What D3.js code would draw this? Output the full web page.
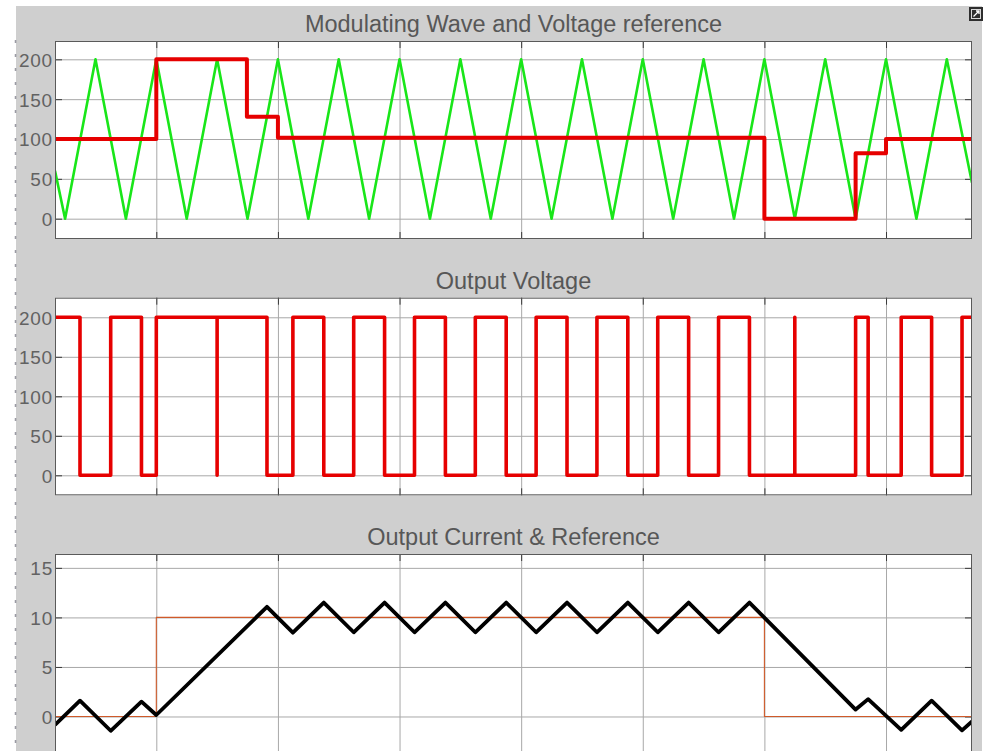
<!DOCTYPE html>
<html>
<head>
<meta charset="utf-8">
<script src="https://cdn.jsdelivr.net/npm/d3@7"></script>
<style>
  body { margin: 0; background: #ffffff; }
  svg { display: block; }
  text { font-family: "Liberation Sans", Arial, sans-serif; }
</style>
</head>
<body>
<svg id="chart" width="988" height="751"></svg>
<script>
// ---- time axis (ms) ----
const timeDomain = [0.167, 7.707];
const timeTicks = [1, 2, 3, 4, 5, 6, 7];

// ---- panel titles and y ticks ----
const titles = ["Modulating Wave and Voltage reference", "Output Voltage", "Output Current & Reference"];
const voltageTicks = [0, 50, 100, 150, 200];
const currentTicks = [0, 5, 10, 15];

// ---- triangular carrier (vertices) ----
const carrierTime = [0.167, 0.25, 0.5, 0.75, 1, 1.25, 1.5, 1.75, 2, 2.25, 2.5, 2.75, 3, 3.25, 3.5, 3.75,
                     4, 4.25, 4.5, 4.75, 5, 5.25, 5.5, 5.75, 6, 6.25, 6.5, 6.75, 7, 7.25, 7.5, 7.707];
const carrierValue = [60, 0, 200, 0, 200, 0, 200, 0, 200, 0, 200, 0, 200, 0, 200, 0,
                      200, 0, 200, 0, 200, 0, 200, 0, 200, 0, 200, 0, 200, 0, 200, 45];

// ---- voltage reference (steps) ----
const refTime = [0.167, 1.0, 1.745, 2.0, 6.0, 6.75, 7.0, 7.707];
const refValue = [100, 200, 128, 101.5, 0, 82, 100, 100];

// ---- PWM output voltage (steps) ----
const voltTime = [0.167, 0.3725, 0.625, 0.878, 1.0, 1.5, 1.5, 1.91, 2.123, 2.377, 2.623, 2.877,
                  3.123, 3.377, 3.623, 3.877, 4.123, 4.377, 4.623, 4.877, 5.123, 5.377, 5.623, 5.877,
                  6.25, 6.25, 6.75, 6.853, 7.125, 7.375, 7.625, 7.707];
const voltValue = [200, 0, 200, 0, 200, 0, 200, 0, 200, 0, 200, 0,
                   200, 0, 200, 0, 200, 0, 200, 0, 200, 0, 200, 0,
                   200, 0, 200, 0, 200, 0, 200, 200];

// ---- output current (vertices) ----
const currentTime = [0.167, 0.3725, 0.625, 0.878, 1.0, 1.91,
                     2.123, 2.377, 2.623, 2.877, 3.123, 3.377, 3.623, 3.877,
                     4.123, 4.377, 4.623, 4.877, 5.123, 5.377, 5.623, 5.877,
                     6.75, 6.853, 7.125, 7.375, 7.625, 7.707];
const currentValue = [-0.85, 1.6, -1.44, 1.5, 0.15, 11.07,
                      8.46, 11.5, 8.5, 11.5, 8.5, 11.5, 8.5, 11.5,
                      8.5, 11.5, 8.5, 11.5, 8.5, 11.5, 8.5, 11.5,
                      0.7, 1.75, -1.35, 1.6, -1.4, -0.5];

// ---- current reference (steps) ----
const irefTime = [0.167, 1.0, 6.0, 7.707];
const irefValue = [0, 10, 0, 0];

const zip = (ts, vs) => ts.map((t, i) => ({ t, v: vs[i] }));

const W = 988, H = 751;
const left = 55, right = 972;
const svg = d3.select("#chart");

// window background
svg.append("rect").attr("x", 16).attr("y", 6).attr("width", 966).attr("height", H - 6).attr("fill", "#cfcfcf");
svg.append("line").attr("x1", 15.5).attr("x2", 15.5).attr("y1", 40).attr("y2", H)
  .attr("stroke", "#4a4a5a").attr("stroke-width", 1.5).attr("stroke-dasharray", "3,11").attr("opacity", 0.55);

// undock icon in the corner
svg.append("rect").attr("x", 969).attr("y", 7).attr("width", 14).attr("height", 14).attr("fill", "#2e2e2e");
svg.append("rect").attr("x", 971.5).attr("y", 9.5).attr("width", 9).attr("height", 9)
  .attr("fill", "none").attr("stroke", "#d8d8d8").attr("stroke-width", 1);
svg.append("path").attr("d", "M973.5,16.5 L979,11 M976,11 L979,11 L979,14")
  .attr("stroke", "#ffffff").attr("stroke-width", 1.3).attr("fill", "none");

const x = d3.scaleLinear().domain(timeDomain).range([left, right]);

const panels = [
  { title: titles[0], titleY: 31.5, top: 41, bottom: 239, domain: [-25.5, 223], ticks: voltageTicks,
    series: [
      { data: zip(carrierTime, carrierValue), color: "#19e619", width: 2.6, curve: d3.curveLinear },
      { data: zip(refTime, refValue), color: "#e60000", width: 4, curve: d3.curveStepAfter }
    ] },
  { title: titles[1], titleY: 288.5, top: 297.7, bottom: 495.3, domain: [-25.3, 224.8], ticks: voltageTicks,
    series: [
      { data: zip(voltTime, voltValue), color: "#e60000", width: 3.6, curve: d3.curveStepAfter }
    ] },
  { title: titles[2], titleY: 545, top: 554, bottom: 770, domain: [-5.4, 16.4], ticks: currentTicks,
    series: [
      { data: zip(irefTime, irefValue), color: "#cf5a2a", width: 1.1, curve: d3.curveStepAfter },
      { data: zip(currentTime, currentValue), color: "#000000", width: 3.8, curve: d3.curveLinear }
    ] }
];

panels.forEach((p, idx) => {
  const y = d3.scaleLinear().domain(p.domain).range([p.bottom, p.top]);
  const plotW = right - left, plotH = p.bottom - p.top;
  const g = svg.append("g");

  g.append("text").attr("x", (left + right) / 2).attr("y", p.titleY)
    .attr("text-anchor", "middle").attr("font-size", 23.5).attr("fill", "#575757").text(p.title);

  g.append("rect").attr("x", left).attr("y", p.top).attr("width", plotW).attr("height", plotH).attr("fill", "#ffffff");

  // grid
  const gy = g.append("g").attr("transform", `translate(${left},0)`)
    .call(d3.axisLeft(y).tickValues(p.ticks).tickSize(-plotW).tickFormat(""));
  const gx = g.append("g").attr("transform", `translate(0,${p.bottom})`)
    .call(d3.axisBottom(x).tickValues(timeTicks).tickSize(-plotH).tickFormat(""));
  [gy, gx].forEach(a => {
    a.select(".domain").remove();
    a.selectAll("line").attr("stroke", "#a8a8a8").attr("stroke-width", 1);
  });

  // inward tick marks
  const tickSets = [
    [d3.axisLeft(y).tickValues(p.ticks), `translate(${left},0)`],
    [d3.axisRight(y).tickValues(p.ticks), `translate(${right},0)`],
    [d3.axisTop(x).tickValues(timeTicks), `translate(0,${p.top})`],
    [d3.axisBottom(x).tickValues(timeTicks), `translate(0,${p.bottom})`]
  ];
  tickSets.forEach(([ax, tr]) => {
    const a = g.append("g").attr("transform", tr).call(ax.tickSize(-7).tickFormat(""));
    a.select(".domain").remove();
    a.selectAll("line").attr("stroke", "#3a3a3a").attr("stroke-width", 1);
  });

  // data lines
  const clipId = "clip" + idx;
  svg.append("clipPath").attr("id", clipId).append("rect")
    .attr("x", left).attr("y", p.top).attr("width", plotW).attr("height", plotH);
  const lines = g.append("g").attr("clip-path", `url(#${clipId})`);
  p.series.forEach(s => {
    const line = d3.line().x(d => x(d.t)).y(d => y(d.v)).curve(s.curve);
    lines.append("path").datum(s.data).attr("d", line)
      .attr("fill", "none").attr("stroke", s.color).attr("stroke-width", s.width)
      .attr("stroke-linejoin", "round").attr("stroke-linecap", "butt");
  });

  // frame
  g.append("rect").attr("x", left + 0.5).attr("y", p.top + 0.5).attr("width", plotW - 1).attr("height", plotH - 1)
    .attr("fill", "none").attr("stroke", "#5a5a5a").attr("stroke-width", 1);

  // tick labels
  const lab = g.append("g").attr("transform", `translate(${left - 2},0)`)
    .call(d3.axisLeft(y).tickValues(p.ticks).tickSize(0).tickPadding(0));
  lab.select(".domain").remove();
  lab.selectAll("text").attr("font-size", 19).attr("fill", "#626262").attr("letter-spacing", "0.8px")
    .attr("font-family", "'Liberation Sans', Arial, sans-serif").attr("dy", "0.36em");
});
</script>
</body>
</html>
